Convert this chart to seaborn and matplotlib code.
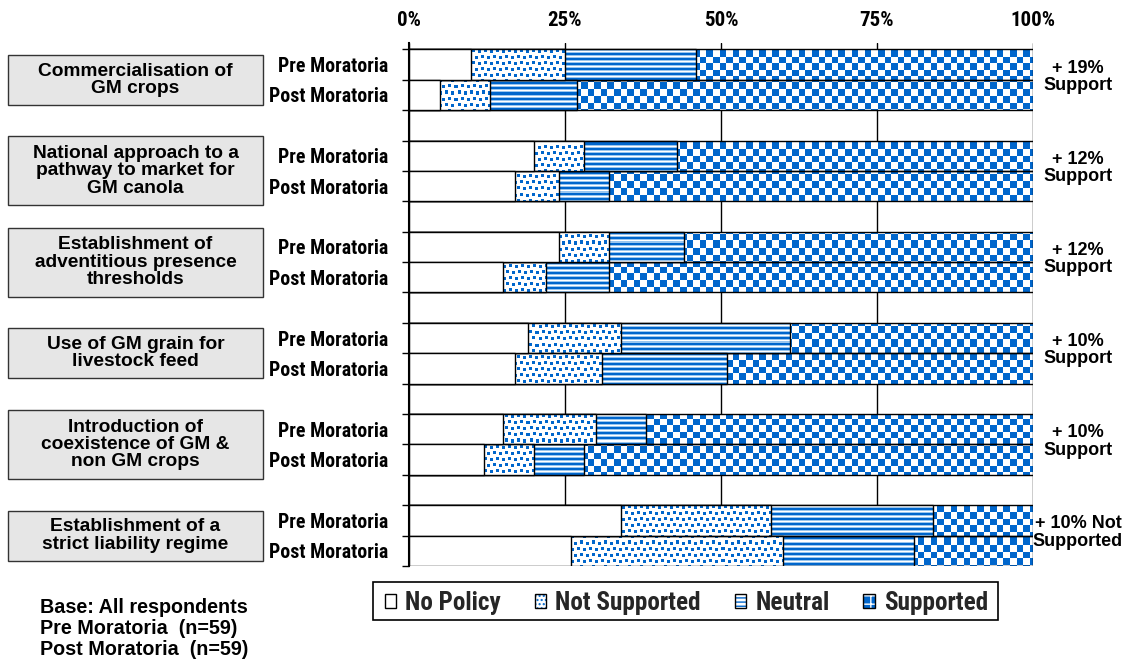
import numpy as np
import pandas as pd
import matplotlib
matplotlib.use("Agg")
import matplotlib.pyplot as plt
import seaborn as sns
from matplotlib.patches import Rectangle, Patch
from matplotlib import font_manager as fm

# ---------------- data ----------------
issues = [
    "Commercialisation of\nGM crops",
    "National approach to a\npathway to market for\nGM canola",
    "Establishment of\nadventitious presence\nthresholds",
    "Use of GM grain for\nlivestock feed",
    "Introduction of\ncoexistence of GM &\nnon GM crops",
    "Establishment of a\nstrict liability regime",
]
periods = ["Pre Moratoria", "Post Moratoria"]
# order: issue1 pre, issue1 post, issue2 pre, ...
no_policy     = [10, 5, 20, 17, 24, 15, 19, 17, 15, 12, 34, 26]
not_supported = [15, 8, 8, 7, 8, 7, 15, 14, 15, 8, 24, 34]
neutral       = [21, 14, 15, 8, 12, 10, 27, 20, 8, 8, 26, 21]
supported     = [54, 73, 57, 68, 56, 68, 39, 49, 62, 72, 16, 19]
change_notes = ["+ 19%\nSupport", "+ 12%\nSupport", "+ 12%\nSupport",
                "+ 10%\nSupport", "+ 10%\nSupport", "+ 10% Not\nSupported"]
x_ticks = [0, 25, 50, 75, 100]
x_tick_labels = ["0%", "25%", "50%", "75%", "100%"]
legend_labels = ["No Policy", "Not Supported", "Neutral", "Supported"]
base_note = "Base: All respondents\nPre Moratoria  (n=59)\nPost Moratoria  (n=59)"

# ---------------- fonts ----------------
sns.set_theme(style="white")
plt.rcParams["font.family"] = ["Liberation Sans", "DejaVu Sans"]


def pick_narrow():
    cands = [("Liberation Sans Narrow", "normal"), ("Roboto Condensed", "normal"),
             ("Open Sans Condensed", "normal"), ("DejaVu Sans", "condensed"),
             ("Noto Sans", "condensed"), ("Roboto", "condensed"), ("Open Sans", "condensed")]
    for fam, stretch in cands:
        try:
            path = fm.findfont(fm.FontProperties(family=fam, stretch=stretch, weight="bold"),
                               fallback_to_default=False)
        except Exception:
            continue
        low = path.lower()
        if "narrow" in low or "condensed" in low:
            return fam, stretch, 1.0
    return "Liberation Sans", "normal", 0.8


NARROW, NSTRETCH, NSCALE = pick_narrow()


def nfont(size):
    return fm.FontProperties(family=NARROW, stretch=NSTRETCH, weight="bold", size=size * NSCALE)


BLUE = np.array([0.0, 0.40, 0.80])
LIGHT = np.array([0.60, 0.78, 0.94])

# ---------------- long table ----------------
rows = []
for i in range(len(no_policy)):
    g, p = divmod(i, 2)
    pos = 3 * g + p
    c1 = no_policy[i]
    c2 = c1 + not_supported[i]
    c3 = c2 + neutral[i]
    c4 = c3 + supported[i]
    for seg, val in zip(legend_labels, [c1, c2, c3, c4]):
        rows.append({"issue": g, "period": periods[p], "pos": pos, "segment": seg, "cum": val})
df = pd.DataFrame(rows)

W_PX, H_PX = 1138, 661
fig = plt.figure(figsize=(W_PX / 100, H_PX / 100), dpi=100)
ax_left, ax_right = 409 / W_PX, 1033 / W_PX
ax_top, ax_bot = 1 - 43 / H_PX, 1 - 566 / H_PX
ax = fig.add_axes([ax_left, ax_bot, ax_right - ax_left, ax_top - ax_bot])

YTOP, YBOT = -0.71, 16.5

# ---------------- bars (outermost cumulative first) ----------------
draw_order = ["Supported", "Neutral", "Not Supported", "No Policy"]
layer_patches = {}
for li, seg in enumerate(draw_order):
    n0 = len(ax.patches)
    sub = df[df["segment"] == seg]
    sns.barplot(data=sub, x="cum", y="pos", orient="h", native_scale=True,
                width=1.0, color="white", saturation=1, edgecolor="black",
                linewidth=1.0, errorbar=None, ax=ax)
    new = list(ax.patches[n0:])
    for p in new:
        p.set_zorder(3 + 2 * li)
        p.set_edgecolor("black")
        p.set_linewidth(1.0)
        p.set_facecolor("white" if seg == "No Policy" else "none")
    layer_patches[seg] = new

ax.set_xlim(0, 100)
ax.set_ylim(YBOT, YTOP)

# ---------------- pixel textures ----------------
bb = ax.get_window_extent()
Wt, Ht = int(round(bb.width)), int(round(bb.height))
yy, xx = np.mgrid[0:Ht, 0:Wt]


def make_tex(mask_blue, mask_light=None):
    img = np.ones((Ht, Wt, 3))
    if mask_light is not None:
        img[mask_light] = LIGHT
    img[mask_blue] = BLUE
    return img


# checkerboard for Supported
checker = make_tex((((xx / 6.6).astype(int)) + ((yy / 6.6).astype(int))) % 2 == 0)
# horizontal stripes for Neutral
sm = yy % 5
stripes = make_tex(sm <= 1, (sm == 2) | (sm == 4))
# confetti dots for Not Supported
tx, ty = xx % 12, yy % 12
dot_mask = np.zeros_like(xx, dtype=bool)
for (dy, dx) in [(0, 0), (1, 6), (6, 3), (7, 9)]:
    dot_mask |= ((ty - dy) % 12 < 3) & ((tx - dx) % 12 < 3)
dots = make_tex(dot_mask)

textures = {"Supported": checker, "Neutral": stripes, "Not Supported": dots}
for li, seg in enumerate(draw_order):
    if seg not in textures:
        continue
    for p in layer_patches[seg]:
        im = ax.imshow(textures[seg], extent=(0, 100, YBOT, YTOP), origin="upper",
                       aspect="auto", interpolation="nearest", zorder=2 + 2 * li)
        im.set_clip_path(p)

ax.set_xlim(0, 100)
ax.set_ylim(YBOT, YTOP)

# ---------------- axes styling ----------------
ax.set_xlabel("")
ax.set_ylabel("")
for s in ["top", "right", "bottom"]:
    ax.spines[s].set_visible(False)
ax.spines["left"].set_color("black")
ax.spines["left"].set_linewidth(1.5)
ax.spines["left"].set_zorder(20)

ax.grid(axis="x", color="black", linewidth=1.0)
ax.grid(axis="y", visible=False)
ax.set_axisbelow(True)

ax.xaxis.tick_top()
ax.set_xticks(x_ticks)
ax.set_xticklabels(x_tick_labels)
ax.tick_params(axis="x", length=0, pad=9)

bar_pos = sorted(df["pos"].unique())
ax.set_yticks(bar_pos)
ax.set_yticklabels([periods[int(p) % 3] for p in bar_pos])
ax.set_yticks(np.arange(-0.5, 17.0, 1.0), minor=True)
ax.tick_params(axis="y", which="major", length=0, pad=15)
ax.tick_params(axis="y", which="minor", length=5, width=1, color="black", left=True)

fig.canvas.draw()
for t in ax.get_xticklabels():
    t.set_fontproperties(nfont(15))
    t.set_color("black")
for t in ax.get_yticklabels():
    t.set_fontproperties(nfont(14.3))
    t.set_color("black")

# ---------------- left category boxes ----------------
def data_y_to_fig(yv):
    disp = ax.transData.transform((0, yv))
    return disp[1] / H_PX


box_x0, box_x1 = 8 / W_PX, 263 / W_PX
for g, label in enumerate(issues):
    yc = data_y_to_fig(3 * g + 0.5)
    nlines = label.count("\n") + 1
    hpx = 50 if nlines == 2 else 69
    h = hpx / H_PX
    fig.add_artist(Rectangle((box_x0, yc - h / 2), box_x1 - box_x0, h,
                             transform=fig.transFigure, facecolor="#e6e6e6",
                             edgecolor="#333333", linewidth=1.0))
    fig.text((box_x0 + box_x1) / 2, yc, label, ha="center", va="center",
             multialignment="center", fontsize=13.8, fontweight="bold",
             linespacing=1.02, color="black")
    # right-side change annotation
    fig.text(1078 / W_PX, yc + 3 / H_PX, change_notes[g], ha="center", va="center",
             multialignment="center", fontsize=13, fontweight="bold",
             linespacing=1.02, color="black")

# ---------------- base note ----------------
fig.text(40 / W_PX, 1 - 598 / H_PX, base_note, ha="left", va="top",
         fontsize=14.2, fontweight="bold", linespacing=1.13, color="black")

# ---------------- legend ----------------
outline = dict(fill=False, edgecolor="black", linewidth=1.0)
handles = [
    Patch(facecolor="white", edgecolor="black", linewidth=1.0),
    (Patch(facecolor="white", edgecolor=BLUE, hatch="....", linewidth=0), Patch(**outline)),
    (Patch(facecolor="white", edgecolor=BLUE, hatch="----", linewidth=0), Patch(**outline)),
    (Patch(facecolor=BLUE, edgecolor="white", hatch="++", linewidth=0), Patch(**outline)),
]
LEG_SIZE = 18.1
leg = fig.legend(handles, legend_labels, loc="center",
                 bbox_to_anchor=(686.5 / W_PX, 1 - 603 / H_PX), ncol=4,
                 prop=nfont(LEG_SIZE),
                 handlelength=0.45, handleheight=0.45, handletextpad=0.36,
                 columnspacing=1.35, borderpad=0.0, borderaxespad=0.0,
                 frameon=False)
# legend frame box
fig.add_artist(Rectangle((373 / W_PX, 1 - 620 / H_PX), (998 - 373) / W_PX, (620 - 582) / H_PX,
                         transform=fig.transFigure, facecolor="none",
                         edgecolor="black", linewidth=1.2, zorder=0))

fig.savefig("out.png", dpi=100, facecolor="white")
